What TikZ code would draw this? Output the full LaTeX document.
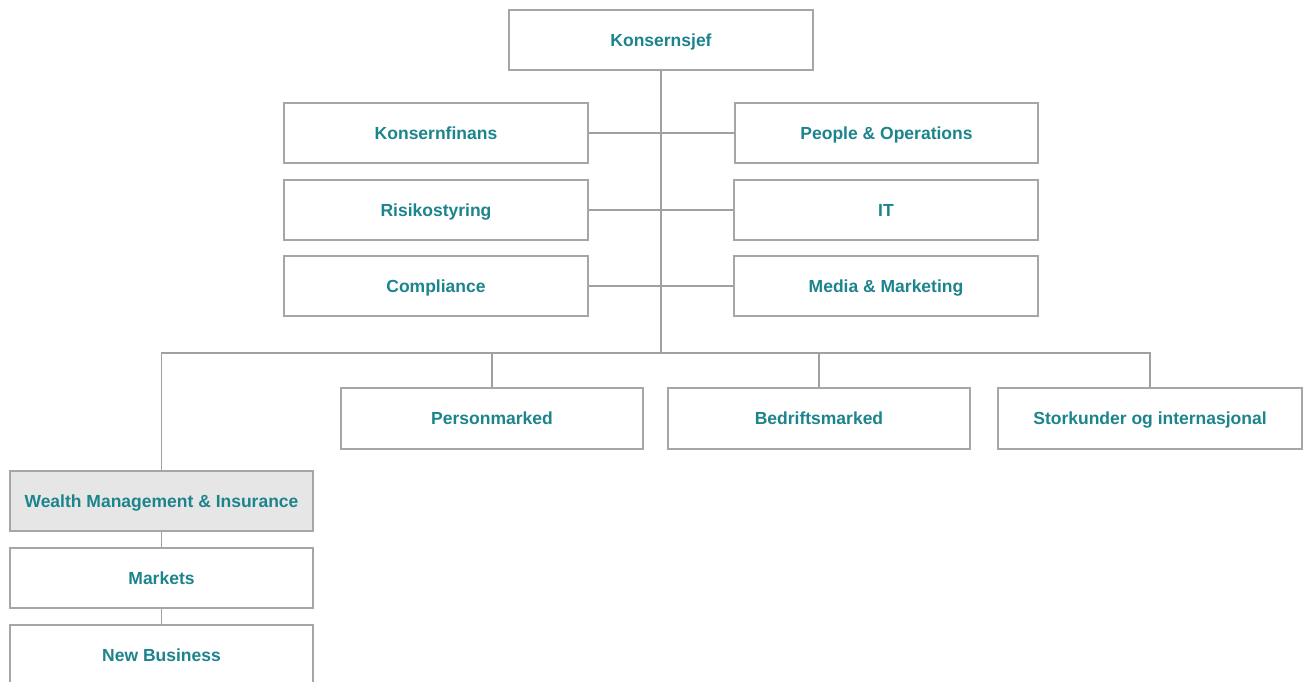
\documentclass[tikz,border=0pt]{standalone}
\usepackage{fontspec}
\setmainfont{Liberation Sans}
\definecolor{labelteal}{RGB}{28,132,140}
\definecolor{framegray}{RGB}{166,166,166}
\definecolor{linegray}{RGB}{160,160,160}
\definecolor{unitfill}{RGB}{230,230,230}
\begin{document}
\begin{tikzpicture}[x=1pt,y=-1pt,
  unit/.style={draw=framegray,line width=1.6pt,fill=white,rectangle,
    minimum width=303pt,minimum height=60pt,inner sep=0pt,
    text height=14.6pt,text depth=2.4pt,
    text=labelteal,font=\fontsize{17.5}{19}\selectfont\bfseries},
  link/.style={draw=linegray,line width=1.4pt}]
\useasboundingbox (0,0) rectangle (1303,682);
\clip (0,0) rectangle (1303,682);
% top level
\node[unit,minimum width=304pt] (ks) at (661,40) {Konsernsjef};
% staff functions
\node[unit,minimum width=304pt] (kf) at (436,133) {Konsernfinans};
\node[unit] (po) at (886.5,133) {People \& Operations};
\node[unit,minimum width=304pt] (rs) at (436,210) {Risikostyring};
\node[unit,minimum width=304pt] (it) at (886,210) {IT};
\node[unit,minimum width=304pt] (co) at (436,286) {Compliance};
\node[unit,minimum width=304pt] (mm) at (886,286) {Media \& Marketing};
% business areas
\node[unit,minimum width=302pt,minimum height=61pt] (pm) at (492,418.5) {Personmarked};
\node[unit,minimum width=302pt,minimum height=61pt] (bm) at (819,418.5) {Bedriftsmarked};
\node[unit,minimum width=304pt,minimum height=61pt] (sk) at (1150,418.5) {Storkunder og internasjonal};
\node[unit,fill=unitfill] (wm) at (161.5,501) {Wealth Management \& Insurance};
\node[unit] (mk) at (161.5,578) {Markets};
\node[unit] (nb) at (161.5,655) {New Business};
% connectors
\coordinate (bus) at (661,353);
\draw[link] (ks.south) -- (bus);
\draw[link] (kf.east) -- (po.west);
\draw[link] (rs.east) -- (it.west);
\draw[link] (co.east) -- (mm.west);
\draw[link] (wm.north) |- (bus) -| (sk.north);
\draw[link] (pm.north) -- (pm.north |- bus);
\draw[link] (bm.north) -- (bm.north |- bus);
\draw[link] (wm.south) -- (mk.north);
\draw[link] (mk.south) -- (nb.north);
\end{tikzpicture}
\end{document}
